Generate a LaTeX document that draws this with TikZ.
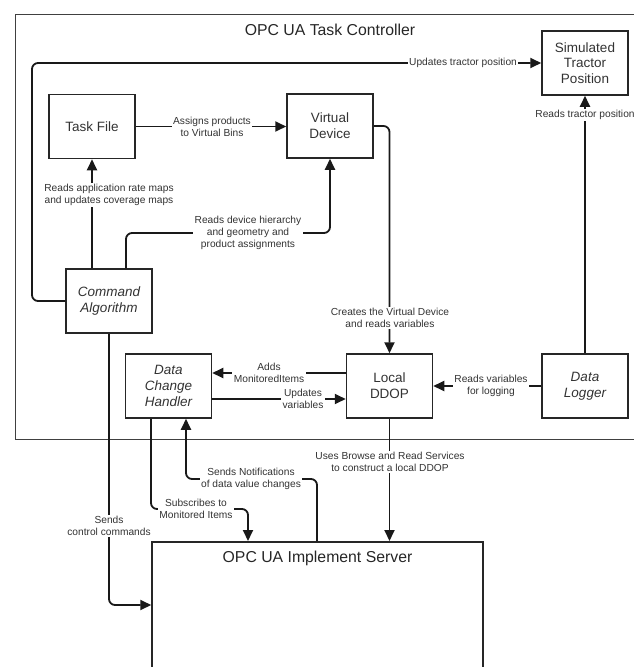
\documentclass[tikz,border=0pt]{standalone}
\usepackage{fontspec}
\setmainfont{Liberation Sans}
\usetikzlibrary{arrows.meta}
\begin{document}
\begin{tikzpicture}[x=1pt,y=-1pt,
  box/.style={draw=black!85, line width=1.5pt, minimum width=86pt, minimum height=64pt, align=center, font=\fontsize{13.5}{15.7}\selectfont, text=black!80, inner sep=0pt},
  itbox/.style={box, font=\fontsize{13.5}{15.7}\selectfont\itshape},
  lab/.style={fill=white, align=center, font=\fontsize{10.2}{12}\selectfont, text=black!80, inner sep=1.5pt},
  ttl/.style={font=\fontsize{15.8}{18}\selectfont, text=black!85, inner sep=0pt},
  arr/.style={draw=black!90, line width=1.8pt, -{Triangle[length=11pt,width=10pt]}, rounded corners=6pt}]
\useasboundingbox (0,0) rectangle (634,667);
\clip (0,0) rectangle (634,667);
% containers
\node[draw=black!75, line width=1.3pt, minimum width=640pt, minimum height=425pt, anchor=north west, inner sep=0pt] (tc) at (15,14) {};
\node[ttl] (tctitle) at (330,30) {OPC UA Task Controller};
\node[draw=black!85, line width=1.5pt, minimum width=331pt, minimum height=200pt, anchor=north, inner sep=0pt] (server) at (317.5,541) {};
\node[ttl] (srvtitle) at (317.5,558) {OPC UA Implement Server};
% boxes
\node[box] (simpos) at (585,63) {Simulated\\Tractor\\Position};
\node[box] (taskfile) at (92,126.5) {Task File};
\node[box] (vdev) at (330,126) {Virtual\\Device};
\node[itbox] (cmdalg) at (109,301) {Command\\Algorithm};
\node[itbox] (dch) at (168.5,386) {Data\\Change\\Handler};
\node[box] (lddop) at (389.5,386) {Local\\DDOP};
\node[itbox] (dlog) at (585,386) {Data\\Logger};
% connectors
\draw[arr] (cmdalg.west) -- (32,301) |- (simpos.west);
\draw[arr] (taskfile.east) -- (taskfile.east -| vdev.west);
\draw[arr] (cmdalg.north -| taskfile.south) -- (taskfile.south);
\draw[arr] (cmdalg.north -| 126,0) |- (330,233) -- (vdev.south);
\draw[arr] (vdev.east) -| (lddop.north);
\draw[arr] (lddop.west |- 0,373) -- (dch.east |- 0,373);
\draw[arr] (dch.east |- 0,399) -- (lddop.west |- 0,399);
\draw[arr] (dlog.west) -- (lddop.east);
\draw[arr] (dlog.north) -- (simpos.south);
\draw[arr] (lddop.south) -- (lddop.south |- server.north);
\draw[arr] (cmdalg.south) |- (server.west |- 0,605);
\draw[arr] (dch.south -| 151,0) |- (248,509) -- (server.north -| 248,0);
\draw[arr] (server.north -| 317,0) |- (186,479) -- (dch.south -| 186,0);
% labels
\node[lab] (l1) at (463,63) {Updates tractor position};
\node[lab] (l2) at (212,127) {Assigns products\\to Virtual Bins};
\node[lab] (l3) at (109,195) {Reads application rate maps\\and updates coverage maps};
\node[lab] (l4) at (248,233) {Reads device hierarchy\\and geometry and\\product assignments};
\node[lab] (l5) at (390,318) {Creates the Virtual Device\\and reads variables};
\node[lab] (l6) at (269,373) {Adds\\MonitoredItems};
\node[lab] (l7) at (303,399) {Updates\\variables};
\node[lab] (l8) at (491,386) {Reads variables\\for logging};
\node[lab] (l9) at (585,115) {Reads tractor position};
\node[lab] (l10) at (390,462) {Uses Browse and Read Services\\to construct a local DDOP};
\node[lab] (l11) at (109,526) {Sends\\control commands};
\node[lab] (l12) at (196,509) {Subscribes to\\Monitored Items};
\node[lab] (l13) at (251,479) {Sends Notifications\\of data value changes};
\end{tikzpicture}
\end{document}
